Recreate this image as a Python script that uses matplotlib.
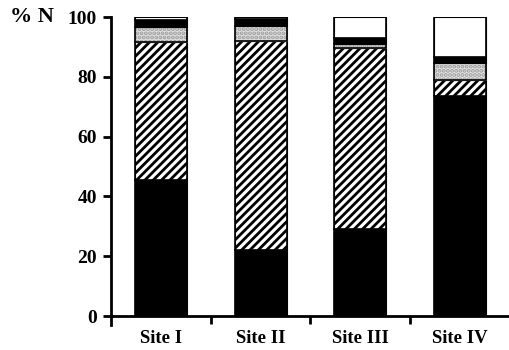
import numpy as np
import matplotlib
matplotlib.use("Agg")
from matplotlib import pyplot as plt

plt.rcParams.update({'font.family': 'Liberation Serif', 'font.weight': 'bold',
                     'hatch.linewidth': 2.0})

sites = ["Site I", "Site II", "Site III", "Site IV"]

# percent of N per fraction, stacked from the bottom up
solid = [45.5, 22, 29, 73.5]
striped = [46, 70, 60.5, 5.5]
dotted = [5, 5, 1.5, 5.5]
dark = [2.5, 2.5, 2, 2]
empty = [1, 0.5, 7, 13.5]

layers = [
    (solid, dict(color='black', edgecolor='black')),
    (striped, dict(color='white', edgecolor='black', hatch='////')),
    (dotted, dict(color='#e4e4e4', edgecolor='#9a9a9a', hatch='....')),
    (dark, dict(color='black', edgecolor='black')),
    (empty, dict(color='white', edgecolor='black')),
]

fig = plt.figure(figsize=(5.1, 3.5), dpi=100)
ax = fig.add_axes([0.2176, 0.0714, 0.7824, 0.88])

x = np.arange(len(sites))
width = 0.52
bottom = np.zeros(len(sites))
for vals, style in layers:
    vals = np.array(vals, dtype=float)
    ax.bar(x, vals, width, bottom=bottom, linewidth=0.8, **style)
    # outline each segment in black so the boundaries read as dark bands
    ax.bar(x, vals, width, bottom=bottom, fill=False, edgecolor='black', linewidth=1.2)
    bottom += vals

ax.set_xlim(-0.5, 3.5)
ax.set_ylim(-3, 100)
for pos in ['top', 'right']:
    ax.spines[pos].set_visible(False)
ax.spines['bottom'].set_position(('data', 0))
ax.spines['bottom'].set_linewidth(2)
ax.spines['left'].set_linewidth(2)

ax.set_yticks([0, 20, 40, 60, 80, 100])
ax.tick_params(axis='y', length=6, width=2, labelsize=14, pad=4)
ax.set_xticks(x)
ax.set_xticklabels(sites)
ax.tick_params(axis='x', which='major', length=0, labelsize=13.5, pad=10)
ax.set_xticks([0.5, 1.5, 2.5], minor=True)
ax.tick_params(axis='x', which='minor', length=6, width=2, direction='out')
for lab in ax.get_xticklabels() + ax.get_yticklabels():
    lab.set_fontweight('bold')

fig.text(10 / 510, 1 - 17 / 350, "% N", fontsize=16, fontweight='bold', va='center', ha='left')

plt.savefig("out.png", dpi=100)
